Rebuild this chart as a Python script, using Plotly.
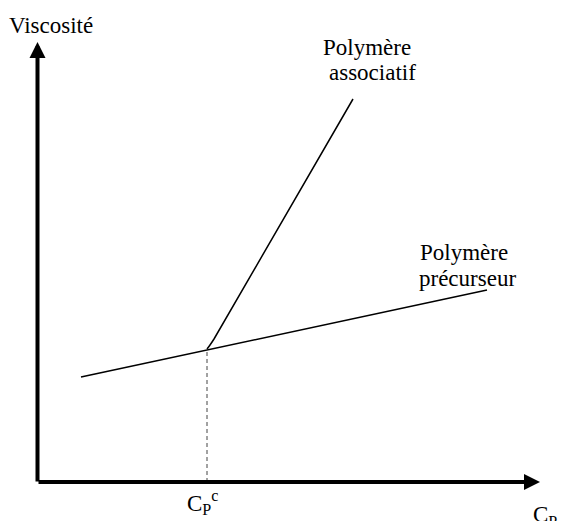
import plotly.graph_objects as go

# Data (arbitrary units: concentration Cp on x, viscosity on y)
cp_precursor = [43.5, 449.5]
visc_precursor = [105, 192]

cp_associative = [169.5, 172.5, 176.5, 315.5]
visc_associative = [133, 137, 143, 383]

cp_critical = 169.5
visc_critical = 133

x_axis_end = 502.5
y_axis_end = 440

FONT = "Liberation Serif, Times New Roman, serif"

fig = go.Figure()

fig.add_trace(go.Scatter(x=cp_precursor, y=visc_precursor, mode="lines",
                         line=dict(color="black", width=1.5), hoverinfo="skip"))
fig.add_trace(go.Scatter(x=cp_associative, y=visc_associative, mode="lines",
                         line=dict(color="black", width=1.5, shape="spline", smoothing=0.6),
                         hoverinfo="skip"))
fig.add_trace(go.Scatter(x=[cp_critical, cp_critical], y=[0, visc_critical], mode="lines",
                         line=dict(color="#444444", width=1, dash="4px,3px"), hoverinfo="skip"))

annotations = [
    # y axis arrow
    dict(x=0, y=y_axis_end, ax=0, ay=-1, xref="x", yref="y", axref="x", ayref="y",
         showarrow=True, arrowhead=2, arrowsize=0.8, arrowwidth=4, arrowcolor="black", text=""),
    # x axis arrow
    dict(x=x_axis_end, y=0, ax=-0.5, ay=0, xref="x", yref="y", axref="x", ayref="y",
         showarrow=True, arrowhead=2, arrowsize=0.8, arrowwidth=4, arrowcolor="black", text=""),
    dict(x=51, y=25, xref="pixel", text="Viscosité"),
    dict(x=367, y=47, text="Polymère"),
    dict(x=372, y=72, text="associatif"),
    dict(x=418, y=252, text="Polymère", xanchor="left"),
    dict(x=417, y=278, text="précurseur", xanchor="left"),
    dict(x=202, y=502, text="C<sub>P</sub><sup>c</sup>"),
    dict(x=545, y=516, text="C<sub>P</sub>"),
]

# convert pixel-positioned text annotations to paper coordinates
W, H = 562, 521
final = []
for a in annotations:
    if a.get("xref") == "x":
        final.append(a)
        continue
    final.append(dict(x=a["x"] / W, y=1 - a["y"] / H, xref="paper", yref="paper",
                      text=a["text"], showarrow=False,
                      xanchor=a.get("xanchor", "center"), yanchor="middle",
                      font=dict(family=FONT, size=23, color="black")))

fig.update_layout(
    width=W, height=H,
    margin=dict(l=0, r=0, t=0, b=0),
    paper_bgcolor="white", plot_bgcolor="white",
    showlegend=False,
    xaxis=dict(range=[-37.5, 524.5], visible=False, fixedrange=True),
    yaxis=dict(range=[-39, 482], visible=False, fixedrange=True),
    annotations=final,
)

fig.write_html("out.html", config={"displayModeBar": False},
               post_script="document.body.style.margin='0';document.body.style.overflow='hidden';")
